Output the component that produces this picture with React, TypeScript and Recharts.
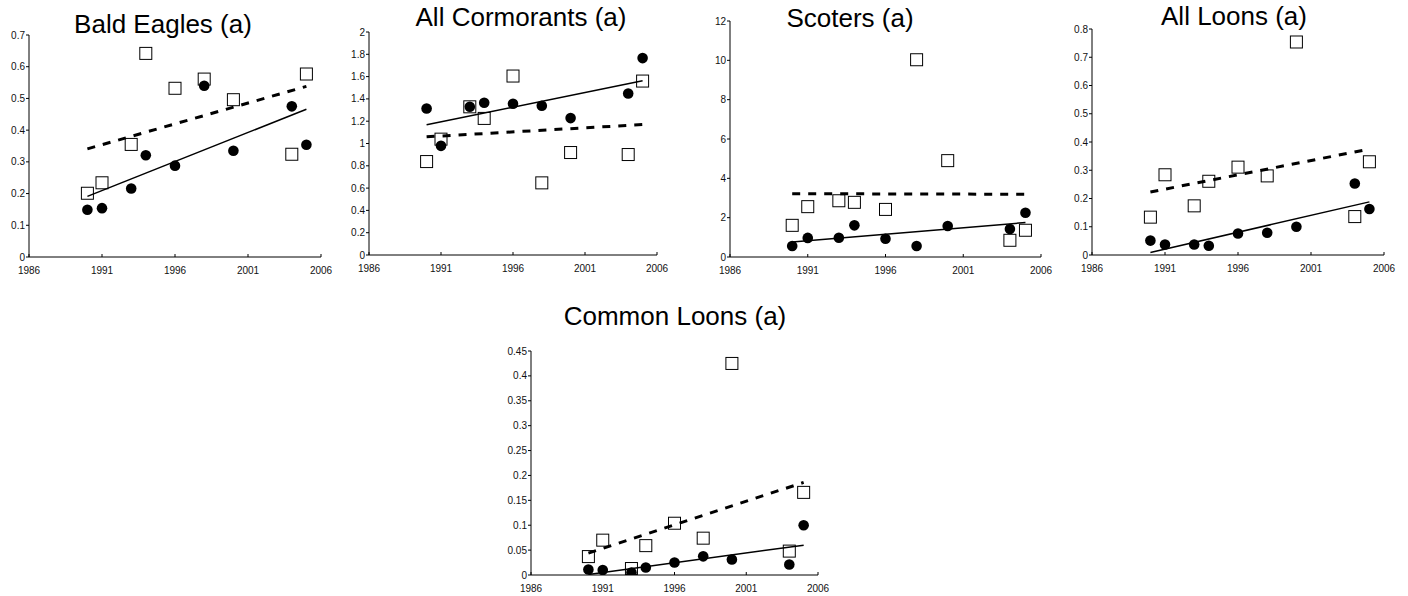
import { ScatterChart, Scatter, XAxis, YAxis } from 'recharts';

const years = [1990, 1991, 1993, 1994, 1996, 1998, 2000, 2004, 2005];
const trendYears = [1990, 2005];
const xTicks = [1986, 1991, 1996, 2001, 2006];

// Bald Eagles (a)
const eaglesCircles = [0.149, 0.154, 0.216, 0.321, 0.288, 0.54, 0.335, 0.475, 0.354];
const eaglesSquares = [0.201, 0.234, 0.355, 0.642, 0.532, 0.561, 0.496, 0.324, 0.577];
const eaglesSolid = [0.191, 0.466];
const eaglesDashed = [0.341, 0.538];
const eaglesTicks = [0, 0.1, 0.2, 0.3, 0.4, 0.5, 0.6, 0.7];

// All Cormorants (a)
const cormCircles = [1.314, 0.979, 1.329, 1.365, 1.356, 1.338, 1.228, 1.449, 1.766];
const cormSquares = [0.838, 1.039, 1.329, 1.225, 1.605, 0.647, 0.919, 0.901, 1.56];
const cormSolid = [1.168, 1.563];
const cormDashed = [1.06, 1.17];
const cormTicks = [0, 0.2, 0.4, 0.6, 0.8, 1, 1.2, 1.4, 1.6, 1.8, 2];

// Scoters (a)
const scotCircles = [0.56, 0.97, 0.98, 1.61, 0.93, 0.56, 1.58, 1.42, 2.25];
const scotSquares = [1.61, 2.56, 2.86, 2.78, 2.42, 10.03, 4.9, 0.85, 1.36];
const scotSolid = [0.76, 1.75];
const scotDashed = [3.22, 3.19];
const scotTicks = [0, 2, 4, 6, 8, 10, 12];

// All Loons (a)
const loonCircles = [0.051, 0.037, 0.037, 0.033, 0.076, 0.079, 0.1, 0.253, 0.163];
const loonSquares = [0.134, 0.284, 0.174, 0.261, 0.311, 0.28, 0.754, 0.136, 0.33];
const loonSolid = [0.009, 0.188];
const loonDashed = [0.223, 0.375];
const loonTicks = [0, 0.1, 0.2, 0.3, 0.4, 0.5, 0.6, 0.7, 0.8];

// Common Loons (a)
const commonCircles = [0.011, 0.01, 0.005, 0.015, 0.025, 0.0375, 0.031, 0.021, 0.1];
const commonSquares = [0.037, 0.07, 0.013, 0.059, 0.104, 0.074, 0.425, 0.048, 0.166];
const commonSolid = [0.001, 0.06];
const commonDashed = [0.044, 0.186];
const commonTicks = [0, 0.05, 0.1, 0.15, 0.2, 0.25, 0.3, 0.35, 0.4, 0.45];

const toPoints = (xs: number[], vs: number[]) => xs.map((x, i) => ({ x, y: vs[i] }));

const FONT = '"Liberation Sans", Arial, sans-serif';

const circleShape = (p: any) => <circle cx={p.cx} cy={p.cy} r={5.3} fill="#000" />;
const squareShape = (p: any) => (
  <rect x={p.cx - 6} y={p.cy - 6} width={12} height={12} fill="#fff" stroke="#000" strokeWidth={1} />
);
const noShape = () => <g />;

const panels = [
  { title: 'Bald Eagles (a)', titleX: 163, titleY: 33, left: 29, top: 35, w: 292, h: 222, circles: eaglesCircles, squares: eaglesSquares, solid: eaglesSolid, dashed: eaglesDashed, ticks: eaglesTicks },
  { title: 'All Cormorants (a)', titleX: 521, titleY: 26, left: 369, top: 32, w: 288, h: 223, circles: cormCircles, squares: cormSquares, solid: cormSolid, dashed: cormDashed, ticks: cormTicks },
  { title: 'Scoters (a)', titleX: 850, titleY: 27, left: 730, top: 21, w: 311, h: 236, circles: scotCircles, squares: scotSquares, solid: scotSolid, dashed: scotDashed, ticks: scotTicks },
  { title: 'All Loons (a)', titleX: 1234, titleY: 25, left: 1092, top: 29, w: 292, h: 226, circles: loonCircles, squares: loonSquares, solid: loonSolid, dashed: loonDashed, ticks: loonTicks },
  { title: 'Common Loons (a)', titleX: 675, titleY: 325, left: 531, top: 351, w: 287, h: 224, circles: commonCircles, squares: commonSquares, solid: commonSolid, dashed: commonDashed, ticks: commonTicks },
];

function Panel({ p }: { p: any }) {
  const yw = 40, mt = 10, mr = 20, xh = 30;
  const max = p.ticks[p.ticks.length - 1];
  return (
    <>
      <div style={{ position: 'absolute', left: p.titleX - 200, top: p.titleY - 22, width: 400, textAlign: 'center', fontSize: 26, lineHeight: '26px', fontFamily: FONT, color: '#000' }}>
        {p.title}
      </div>
      <div style={{ position: 'absolute', left: p.left - yw, top: p.top - mt }}>
        <ScatterChart width={p.w + yw + mr} height={p.h + mt + xh} margin={{ top: mt, right: mr, bottom: 0, left: 0 }}>
          <XAxis
            type="number"
            dataKey="x"
            domain={[1986, 2006]}
            ticks={xTicks}
            interval={0}
            allowDataOverflow
            stroke="#000"
            height={xh}
            tickSize={-3}
            tickMargin={13}
            tick={{ fill: '#111', fontSize: 10, fontFamily: FONT }}
          />
          <YAxis
            type="number"
            dataKey="y"
            domain={[0, max]}
            ticks={p.ticks}
            interval={0}
            allowDataOverflow
            stroke="#000"
            width={yw}
            tickSize={3}
            tickMargin={1}
            tick={{ fill: '#111', fontSize: 10, fontFamily: FONT }}
          />
          <Scatter data={toPoints(years, p.squares)} shape={squareShape} isAnimationActive={false} />
          <Scatter data={toPoints(years, p.circles)} shape={circleShape} isAnimationActive={false} />
          <Scatter
            data={toPoints(trendYears, p.solid)}
            fill="none"
            line={{ stroke: '#000', strokeWidth: 1.5 }}
            shape={noShape}
            isAnimationActive={false}
          />
          <Scatter
            data={toPoints(trendYears, p.dashed)}
            fill="none"
            line={{ stroke: '#000', strokeWidth: 3, strokeDasharray: '8 8' }}
            shape={noShape}
            isAnimationActive={false}
          />
        </ScatterChart>
      </div>
    </>
  );
}

export default function App() {
  return (
    <div style={{ position: 'absolute', left: 0, top: 0, width: 1408, height: 596, background: '#fff', fontFamily: FONT }}>
      {panels.map((p) => (
        <Panel key={p.title} p={p} />
      ))}
    </div>
  );
}
